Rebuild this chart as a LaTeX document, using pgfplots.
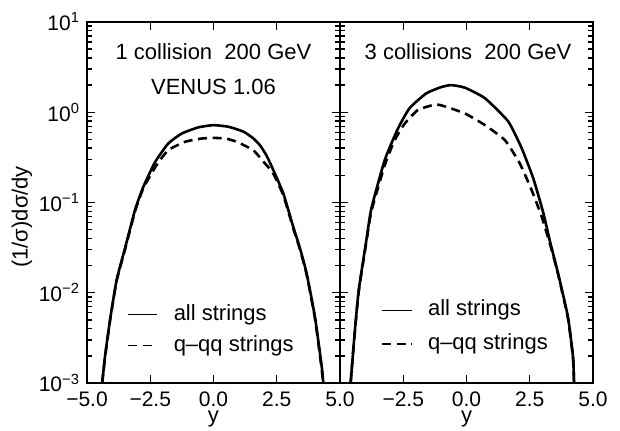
\documentclass[border=0pt]{standalone}
\usepackage{fontspec}
\setmainfont{Liberation Sans}
\usepackage{pgfplots}
\pgfplotsset{compat=1.18}
\pgfplotsset{
  mypanel/.style={
    width=126.5pt, height=180.5pt, scale only axis,
    xmin=-5, xmax=5, ymin=1e-3, ymax=10,
    axis line style={line width=0.8pt},
    tick align=inside,
    xtick pos=both, ytick pos=both,
    xtick={-5,-2.5,0,2.5,5},
    ytick={1e-3,1e-2,1e-1,1,10},
    minor ytick={2e-3,3e-3,4e-3,5e-3,6e-3,7e-3,8e-3,9e-3,
                 2e-2,3e-2,4e-2,5e-2,6e-2,7e-2,8e-2,9e-2,
                 2e-1,3e-1,4e-1,5e-1,6e-1,7e-1,8e-1,9e-1,
                 2,3,4,5,6,7,8,9},
    major tick length=4pt, minor tick length=2.5pt,
    every tick/.style={line width=0.7pt, black},
    tick label style={font=\fontsize{10.5}{12}\selectfont},
    xticklabel style={yshift=-1pt},
    label style={font=\fontsize{11}{12}\selectfont},
    xlabel={y},
    xlabel style={at={(rel axis cs:0.5,0)}, anchor=base, yshift=-20pt},
    clip=true,
  },
  mycurve/.style={black, line width=1.3pt, no marks, smooth, tension=0.3},
  mydcurve/.style={black, line width=1.3pt, no marks, smooth, tension=0.3, dash pattern=on 4.5pt off 2.8pt},
}
\begin{document}
\begin{tikzpicture}
\path[use as bounding box] (-43.5pt,-24pt) rectangle (266.5pt,191.5pt);
% ---------------- left panel ----------------
\begin{semilogyaxis}[mypanel, at={(0pt,0pt)}, anchor=south west,
  yticklabels={10\textsuperscript{−3},10\textsuperscript{−2},10\textsuperscript{−1},10\textsuperscript{0},10\textsuperscript{1}},
  xticklabels={−5.0,−2.5,0.0,2.5,5.0},
  ylabel={(1/σ)dσ/dy},
  ylabel style={at={(rel axis cs:0,0.46)}, anchor=center, rotate=0, yshift=32.5pt},
]
\addplot[mycurve] coordinates {
(-4.40,0.001) (-4.29,0.00195) (-4.09,0.005) (-3.83,0.0138) (-3.50,0.031)
(-3.10,0.083) (-2.77,0.15) (-2.31,0.28) (-1.79,0.45) (-1.26,0.58)
(-0.6,0.68) (0,0.72) (0.6,0.69) (1.18,0.61) (1.55,0.52) (1.84,0.43) (2.1,0.33) (2.36,0.23)
(2.76,0.126) (3.15,0.054) (3.42,0.031) (3.68,0.0164) (4.01,0.0054)
(4.28,0.0015) (4.34,0.001)
};
\addplot[mydcurve] coordinates {
(-4.40,0.001) (-4.29,0.0019) (-4.09,0.0049) (-3.83,0.0135) (-3.50,0.030)
(-3.10,0.080) (-2.77,0.145) (-2.25,0.26) (-1.79,0.38) (-1.13,0.47)
(-0.5,0.51) (0,0.52) (0.5,0.51) (0.92,0.47) (1.57,0.38) (2.04,0.27)
(2.36,0.21) (2.76,0.12) (3.15,0.052) (3.42,0.030) (3.68,0.016)
(4.01,0.0052) (4.28,0.0014) (4.33,0.001)
};
% legend samples
\addplot[black, line width=0.7pt] coordinates {(-3.38,0.0057) (-2.23,0.0057)};
\addplot[black, line width=0.7pt, dash pattern=on 4.5pt off 2.8pt] coordinates {(-3.38,0.0026) (-2.23,0.0026)};
\node[anchor=west, font=\fontsize{11}{12}\selectfont] at (axis cs:-1.85,0.0057) {all strings};
\node[anchor=west, font=\fontsize{11}{12}\selectfont] at (axis cs:-1.85,0.0026) {q–qq strings};
\node[font=\fontsize{11}{12}\selectfont] at (axis cs:0,4.66) {1 collision\ \ 200 GeV};
\node[font=\fontsize{11}{12}\selectfont] at (axis cs:0,1.9) {VENUS 1.06};
\end{semilogyaxis}
% ---------------- right panel ----------------
\begin{semilogyaxis}[mypanel, at={(126.5pt,0pt)}, anchor=south west,
  yticklabels={},
  xticklabels={,−2.5,0.0,2.5,5.0},
]
\addplot[mycurve] coordinates {
(-4.58,0.001) (-4.42,0.0036) (-4.26,0.0107) (-3.96,0.038) (-3.76,0.086)
(-3.23,0.296) (-2.71,0.66) (-2.25,1.11) (-1.59,1.62) (-1.0,1.90)
(-0.6,2.0) (-0.06,1.87) (0.73,1.43) (1.65,0.79) (2.18,0.40) (2.64,0.185)
(3.04,0.076) (3.29,0.038) (3.62,0.0164) (4.01,0.0054) (4.21,0.00195)
(4.25,0.001)
};
\addplot[mydcurve] coordinates {
(-4.58,0.001) (-4.42,0.0035) (-4.26,0.0103) (-3.96,0.036) (-3.76,0.08)
(-3.23,0.26) (-2.84,0.49) (-2.44,0.75) (-1.92,1.06) (-1.19,1.22)
(-0.6,1.10) (0,0.95) (0.73,0.72) (1.52,0.49) (2.11,0.27) (2.57,0.138)
(2.97,0.070) (3.35,0.031) (3.62,0.016) (4.01,0.0052) (4.21,0.0019)
(4.25,0.001)
};
\addplot[black, line width=0.7pt] coordinates {(-3.34,0.0064) (-2.15,0.0064)};
\addplot[black, line width=0.7pt, dash pattern=on 4.5pt off 2.8pt] coordinates {(-3.34,0.0027) (-2.15,0.0027)};
\node[anchor=west, font=\fontsize{11}{12}\selectfont] at (axis cs:-1.80,0.0064) {all strings};
\node[anchor=west, font=\fontsize{11}{12}\selectfont] at (axis cs:-1.80,0.0027) {q–qq strings};
\node[font=\fontsize{11}{12}\selectfont] at (axis cs:0.06,4.66) {3 collisions\ \ 200 GeV};
\end{semilogyaxis}
\end{tikzpicture}
\end{document}
